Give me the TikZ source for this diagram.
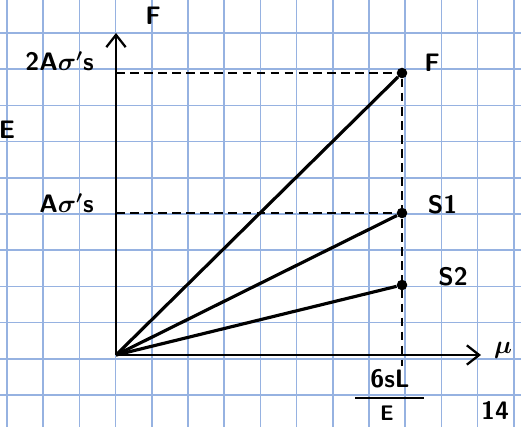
\documentclass[tikz,border=0pt]{standalone}
\usepackage{amsmath, amssymb}
\usepackage{tikz}
\usetikzlibrary{positioning,arrows.meta}
\usepackage{xcolor}
\definecolor{paperblue}{RGB}{150,178,225}

\begin{document}
\begin{tikzpicture}[
          x=0.02cm, y=-0.02cm,
          every node/.style={font=\sffamily\bfseries\Large},
          gridline/.style={paperblue,line width=0.9pt},
          axis/.style={black,line width=1.3pt,-{Straight Barb[length=7pt,width=11pt,line width=1.3pt]}},
          load/.style={black,line width=1.8pt},
          guide/.style={black,line width=0.8pt,dash pattern=on 5pt off 3pt},
          pt/.style={circle,fill=black,inner sep=0pt,minimum size=6pt},
        ]
        \useasboundingbox (0,0) rectangle (521,427);
        \clip (0,0) rectangle (521,427);
        \fill[white] (0,0) rectangle (521,427);
        % grid paper
        \foreach \k in {0,...,14} {
          \draw[gridline] ({7+36.2*\k},0) -- ({7+36.2*\k},427);
        }
        \foreach \k in {1,...,12} {
          \draw[gridline] (0,{-3.2+36.2*\k}) -- (521,{-3.2+36.2*\k});
        }
        % axes
        \coordinate (O) at (116,355);
        \coordinate (ytop) at (116,33);
        \coordinate (xend) at (481,355);
        \draw[axis] (O) -- (ytop);
        \draw[axis] (O) -- (xend);
        \node (Flab) at (153,16) {F};
        \node (mulab) at (503,350) {$\boldsymbol{\mu}$};
        % points
        \node[pt] (F) at (402,73) {};
        \node[pt] (S1) at (402,213) {};
        \node[pt] (S2) at (402,285) {};
        \coordinate (Fy) at (116,73);
        \coordinate (S1y) at (116,213);
        \coordinate (xfoot) at (402,366);
        \draw[guide] (Fy) -- (F);
        \draw[guide] (S1y) -- (S1);
        \draw[guide] (F) -- (xfoot);
        \draw[load] (O) -- (F);
        \draw[load] (O) -- (S1);
        \draw[load] (O) -- (S2);
        % labels
        \node[anchor=east] (top) at (100,61) {2A$\boldsymbol{\sigma'}$s};
        \node[anchor=east] (mid) at (100,203) {A$\boldsymbol{\sigma'}$s};
        \node[right=6pt of F,yshift=6pt] (Flb) {F};
        \node[right=8pt of S1,yshift=5pt] (S1lb) {S1};
        \node[right=14pt of S2,yshift=5pt] (S2lb) {S2};
        \node (num) at (390,379) {6sL};
        \coordinate (barl) at (355,398);
        \coordinate (barr) at (424,398);
        \draw[black,line width=1.3pt] (barl) -- (barr);
        \node[font=\sffamily\bfseries\large] (den) at (387,413) {E};
        \node (page) at (495,410) {14};
        \node (edge) at (7,130) {E};
      \end{tikzpicture}
\end{document}
